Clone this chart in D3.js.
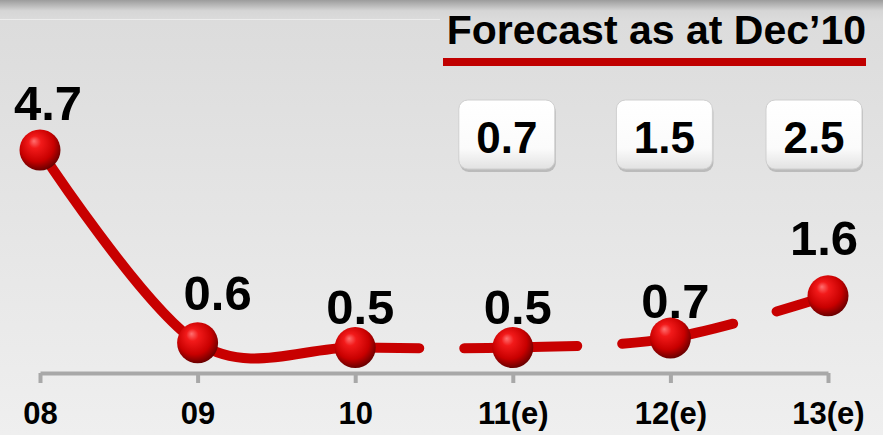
<!DOCTYPE html>
<html>
<head>
<meta charset="utf-8">
<script src="https://cdn.jsdelivr.net/npm/d3@7"></script>
<style>
  html, body { margin: 0; padding: 0; background: #e4e4e4; }
  svg { display: block; }
  text { font-family: "Liberation Sans", Arial, sans-serif; font-weight: bold; fill: #000; }
</style>
</head>
<body>
<svg width="883" height="435"></svg>
<script>
var years = ["08", "09", "10", "11(e)", "12(e)", "13(e)"];
var actual = [4.7, 0.6, 0.5, 0.5, 0.7, 1.6];
var forecastYears = ["11(e)", "12(e)", "13(e)"];
var forecast = [0.7, 1.5, 2.5];
var forecastTitle = "Forecast as at Dec\u201910";
var lastActual = "10";

// label nudges, [dx, dy] from the point
var labelNudge = [[8, -30], [20, -33], [5, -23], [5, -23], [5, -20], [-4, -41]];
var boxNudge = [-5, -5, -13];

var svg = d3.select("svg"),
  width = +svg.attr("width"),
  height = +svg.attr("height");

var defs = svg.append("defs");

var bg = defs.append("linearGradient").attr("id", "bg")
  .attr("x1", 0).attr("y1", 0).attr("x2", 0).attr("y2", 1);
bg.append("stop").attr("offset", "0%").attr("stop-color", "#9c9c9c");
bg.append("stop").attr("offset", "2.5%").attr("stop-color", "#d6d6d6");
bg.append("stop").attr("offset", "5%").attr("stop-color", "#dcdcdc");
bg.append("stop").attr("offset", "100%").attr("stop-color", "#efefef");

var ball = defs.append("radialGradient").attr("id", "ball")
  .attr("cx", "45%").attr("cy", "40%").attr("r", "60%")
  .attr("fx", "35%").attr("fy", "28%");
ball.append("stop").attr("offset", "0%").attr("stop-color", "#ff7070");
ball.append("stop").attr("offset", "25%").attr("stop-color", "#f21a1a");
ball.append("stop").attr("offset", "70%").attr("stop-color", "#c80000");
ball.append("stop").attr("offset", "100%").attr("stop-color", "#6a0000");

var boxFill = defs.append("linearGradient").attr("id", "box")
  .attr("x1", 0).attr("y1", 0).attr("x2", 0).attr("y2", 1);
boxFill.append("stop").attr("offset", "0%").attr("stop-color", "#ffffff");
boxFill.append("stop").attr("offset", "70%").attr("stop-color", "#fbfbfb");
boxFill.append("stop").attr("offset", "100%").attr("stop-color", "#e2e2e2");

svg.append("rect").attr("width", width).attr("height", height).attr("fill", "url(#bg)");
svg.append("line").attr("x1", 0).attr("x2", 440).attr("y1", 19.5).attr("y2", 19.5)
  .attr("stroke", "#ececec").attr("stroke-width", 1);

var x = d3.scalePoint().domain(years).range([40, 828]);
var y = d3.scaleLinear().domain([0, 4.7]).range([371, 150]);

// axis
var axis = svg.append("g")
  .attr("transform", "translate(0,373)")
  .call(d3.axisBottom(x).tickSize(10).tickSizeOuter(0));
axis.select(".domain").attr("stroke", "#a8a8a8").attr("stroke-width", 4);
axis.selectAll(".tick line").attr("stroke", "#a8a8a8").attr("stroke-width", 4);
axis.selectAll(".tick text")
  .attr("y", 29).attr("dy", "0.71em")
  .attr("font-size", 31).attr("font-family", null).attr("fill", "#000");

// title
var title = svg.append("text")
  .attr("x", 866).attr("y", 44)
  .attr("text-anchor", "end")
  .attr("font-size", 41)
  .text(forecastTitle);
svg.append("rect").attr("x", 443).attr("y", 58).attr("width", 423).attr("height", 8).attr("fill", "#c00000");

// forecast boxes
var boxes = svg.selectAll(".fbox").data(forecast).enter().append("g").attr("class", "fbox")
  .attr("transform", function(d, i) { return "translate(" + (x(forecastYears[i]) + boxNudge[i]) + ",100)"; });
boxes.append("rect")
  .attr("x", -48).attr("y", 3).attr("width", 96).attr("height", 69).attr("rx", 9)
  .attr("fill", "#a9a9a9").attr("opacity", 0.7);
boxes.append("rect")
  .attr("x", -49).attr("y", 0).attr("width", 96).attr("height", 69).attr("rx", 9)
  .attr("fill", "url(#box)").attr("stroke", "#cfcfcf").attr("stroke-width", 1);
boxes.append("text")
  .attr("x", -1).attr("y", 53)
  .attr("text-anchor", "middle")
  .attr("font-size", 44)
  .text(function(d) { return d.toFixed(1); });

// line
var line = d3.line()
  .x(function(d, i) { return x(years[i]); })
  .y(function(d) { return y(d); })
  .curve(d3.curveCardinal.tension(0));

var path = svg.append("path")
  .datum(actual)
  .attr("fill", "none")
  .attr("stroke", "#c80000")
  .attr("stroke-width", 10)
  .attr("stroke-linecap", "round")
  .attr("d", line);

var node = path.node(), total = node.getTotalLength();
var lo = 0, hi = total, target = x(lastActual);
for (var k = 0; k < 40; k++) {
  var mid = (lo + hi) / 2;
  if (node.getPointAtLength(mid).x < target) lo = mid; else hi = mid;
}
var dashes = [lo + 64];
for (var s = 0; s < 10; s++) dashes.push(45, 113);
path.attr("stroke-dasharray", dashes.join(","));

// balls
svg.selectAll(".ball").data(actual).enter().append("circle")
  .attr("class", "ball")
  .attr("cx", function(d, i) { return x(years[i]); })
  .attr("cy", function(d) { return y(d); })
  .attr("r", 20.5)
  .attr("fill", "url(#ball)");

// value labels
svg.selectAll(".val").data(actual).enter().append("text")
  .attr("class", "val")
  .attr("x", function(d, i) { return x(years[i]) + labelNudge[i][0]; })
  .attr("y", function(d, i) { return y(d) + labelNudge[i][1]; })
  .attr("text-anchor", "middle")
  .attr("font-size", 49)
  .text(function(d) { return d.toFixed(1); });
</script>
</body>
</html>
